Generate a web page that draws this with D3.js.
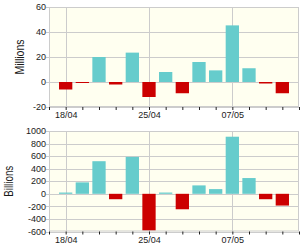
<!DOCTYPE html>
<html>
<head>
<meta charset="utf-8">
<script src="https://cdn.jsdelivr.net/npm/d3@7"></script>
<style>
html,body{margin:0;padding:0;background:#fff;}
svg{display:block;}
text{font-family:"Liberation Sans",Arial,sans-serif;fill:#1a1a1a;}
</style>
</head>
<body>
<svg id="c" width="300" height="250"></svg>
<script>
// ---- data ----
const dates = ["18/04","19/04","20/04","21/04","22/04","25/04","26/04","27/04","28/04","29/04","07/05","08/05","09/05","10/05"];
const shownLabels = ["18/04","25/04","07/05"];
const millions = [-6, -0.8, 20, -2, 23.5, -12, 8, -9, 16, 9.3, 45.3, 11, -1.2, -9];
const billions = [20, 182, 519, -86, 588, -585, 20, -246, 134, 75, 909, 251, -86, -187];
const topTicks = [60, 40, 20, 0, -20];
const bottomTicks = [1000, 800, 600, 400, 200, 0, -200, -400, -600];

const svg = d3.select("#c");
const POS = "#66cccc", NEG = "#cc0000", GRID = "#cccccc", BG = "#fffff0";

const x = d3.scaleLinear().domain([0, dates.length + 1]).range([49, 299]);
const barW = 13.3;

function panel(values, ticks, top, bottom, title, titleX, titleLen) {
  const y = d3.scaleLinear().domain([d3.min(ticks), d3.max(ticks)]).range([bottom, top]);
  const g = svg.append("g");
  g.append("rect").attr("x", 49).attr("y", top).attr("width", 250).attr("height", bottom - top)
    .attr("fill", BG);
  // horizontal grid
  g.selectAll("line.hg").data(ticks).join("line")
    .attr("x1", 46).attr("x2", 299)
    .attr("y1", d => Math.round(y(d)) + 0.5).attr("y2", d => Math.round(y(d)) + 0.5)
    .attr("stroke", GRID).attr("stroke-width", 1);
  // vertical grid at labelled dates
  const labIdx = dates.map((d, i) => shownLabels.includes(d) ? i + 1 : null).filter(v => v !== null);
  g.selectAll("line.vg").data(labIdx).join("line")
    .attr("x1", d => Math.round(x(d)) + 0.5).attr("x2", d => Math.round(x(d)) + 0.5)
    .attr("y1", top).attr("y2", bottom)
    .attr("stroke", GRID);
  // bars
  g.selectAll("rect.bar").data(values).join("rect")
    .attr("x", (d, i) => x(i + 1) - barW / 2)
    .attr("width", barW)
    .attr("y", d => y(Math.max(0, d)))
    .attr("height", d => Math.abs(y(d) - y(0)))
    .attr("fill", d => d >= 0 ? POS : NEG);
  // border
  g.append("rect").attr("x", 49.5).attr("y", top + 0.5).attr("width", 249).attr("height", bottom - top - 1)
    .attr("fill", "none").attr("stroke", GRID);
  // y axis labels
  g.selectAll("text.yl").data(ticks).join("text")
    .attr("x", 46).attr("y", d => y(d)).attr("dy", "0.35em")
    .attr("text-anchor", "end").attr("font-size", 9)
    .text(d => d);
  // x axis
  const xAxis = d3.axisBottom(x)
    .tickValues(d3.range(0, dates.length + 2))
    .tickSize(3).tickPadding(2)
    .tickFormat(i => (i >= 1 && i <= dates.length && shownLabels.includes(dates[i - 1])) ? dates[i - 1] : "");
  const ax = g.append("g").attr("transform", `translate(0,${bottom})`).call(xAxis);
  ax.select(".domain").remove();
  ax.selectAll(".tick line").attr("stroke", "#222");
  ax.selectAll(".tick text").attr("font-size", 9).attr("fill", "#1a1a1a")
    .attr("font-family", "Liberation Sans, Arial, sans-serif");
  // title
  g.append("text").attr("transform", `translate(${titleX},${(top + bottom) / 2}) rotate(-90)`)
    .attr("text-anchor", "middle").attr("font-size", 12.5)
    .attr("textLength", titleLen).attr("lengthAdjust", "spacingAndGlyphs")
    .text(title);
}

panel(millions, topTicks, 7, 107, "Millions", 23.5, 35);
panel(billions, bottomTicks, 131, 231.5, "Billions", 13, 31);
</script>
</body>
</html>
